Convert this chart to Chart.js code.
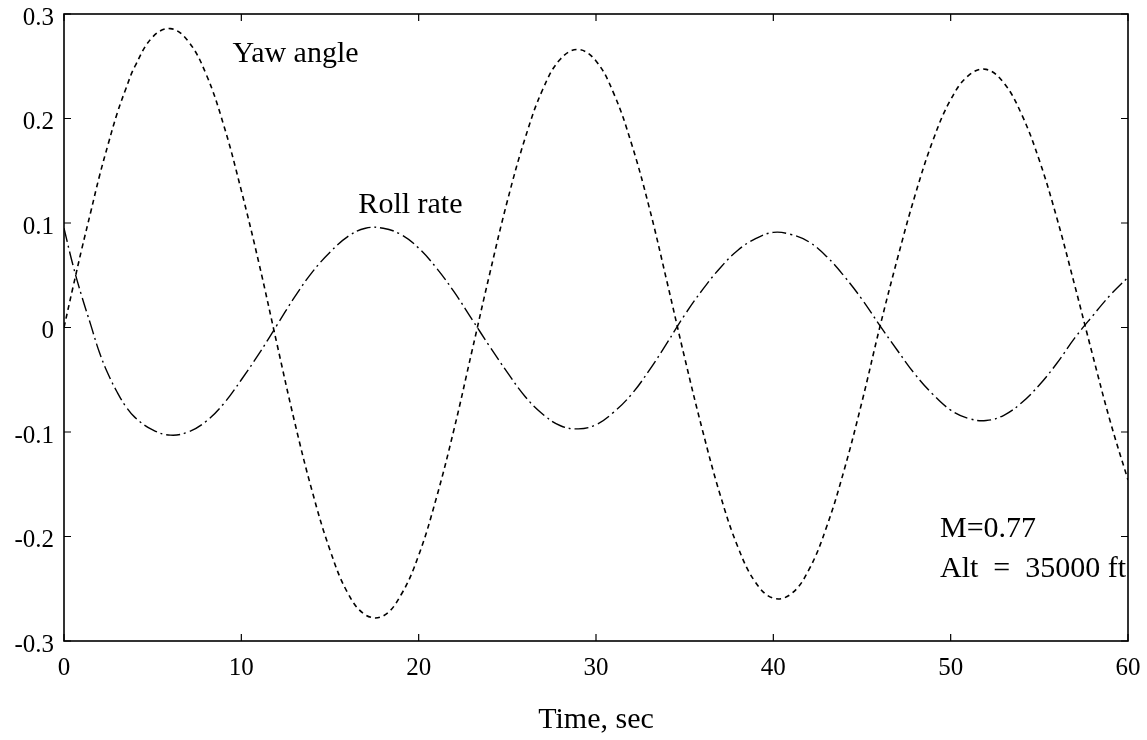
<!DOCTYPE html>
<html>
<head>
<meta charset="utf-8">
<title>Yaw angle / Roll rate</title>
<script src="https://cdn.jsdelivr.net/npm/chart.js@4/dist/chart.umd.min.js"></script>
<style>
    html, body { margin: 0; padding: 0; background: #fff; }
    #wrap { width: 1147px; height: 740px; }
</style>
</head>
<body>
<div id="wrap"><canvas id="chart" width="1147" height="740"></canvas></div>
<script>
// ---------- Data ----------
const timeSec = [0, 0.5, 1, 1.5, 2, 2.5, 3, 3.5, 4, 5, 6, 7, 8, 9, 10, 11, 12, 13, 14, 15, 16, 17, 18, 19, 20,
    21, 22, 23, 24, 25, 26, 27, 28, 29, 30, 31, 32, 33, 34, 35, 36, 37, 38, 39, 40,
    41, 42, 43, 44, 45, 46, 47, 48, 49, 50, 51, 52, 53, 54, 55, 56, 57, 58, 59, 60];

const yawAngle = [0, 0.038, 0.075, 0.110, 0.145, 0.176, 0.205, 0.229, 0.250, 0.278, 0.286, 0.274, 0.243, 0.194, 0.131, 0.061,
    -0.015, -0.090, -0.157, -0.213, -0.254, -0.275, -0.276, -0.256, -0.218,
    -0.163, -0.097, -0.023, 0.051, 0.121, 0.181, 0.228, 0.257, 0.266, 0.255, 0.224, 0.176, 0.115, 0.044,
    -0.029, -0.098, -0.160, -0.210, -0.244, -0.259, -0.255, -0.232, -0.191, -0.136, -0.071, 0.000,
    0.066, 0.127, 0.179, 0.218, 0.241, 0.247, 0.234, 0.204, 0.160, 0.104, 0.040, -0.026, -0.090, -0.146];

const rollRate = [0.095, 0.060, 0.030, 0.003, -0.024, -0.045, -0.062, -0.076, -0.086, -0.098, -0.103, -0.100, -0.090, -0.073, -0.050, -0.025,
    0.002, 0.029, 0.053, 0.072, 0.087, 0.095, 0.095, 0.089, 0.076,
    0.057, 0.034, 0.008, -0.018, -0.043, -0.066, -0.083, -0.094, -0.097, -0.093, -0.081, -0.064, -0.041, -0.015,
    0.012, 0.036, 0.057, 0.074, 0.085, 0.091, 0.089, 0.082, 0.068, 0.049, 0.027, 0.002,
    -0.022, -0.045, -0.064, -0.079, -0.087, -0.089, -0.084, -0.072, -0.055, -0.034, -0.010, 0.011, 0.031, 0.048];

const xTicks = [0, 10, 20, 30, 40, 50, 60];
const yTicks = [-0.3, -0.2, -0.1, 0, 0.1, 0.2, 0.3];

// ---------- Annotations ----------
const notes = [
    { text: "Yaw angle", x: 9.5, y: 0.262 },
    { text: "Roll rate", x: 16.6, y: 0.117 },
    { text: "M=0.77", x: 49.4, y: -0.193 },
    { text: "Alt  =  35000 ft", x: 49.4, y: -0.231 }
];

const serif = "'Liberation Serif', 'DejaVu Serif', serif";

function toPoints(ys) {
    return timeSec.map((t, i) => ({ x: t, y: ys[i] }));
}

// no extra room for labels hanging over the plot edges
function noOverhang(scale) {
    scale.paddingTop = 0;
    scale.paddingBottom = 0;
    scale.paddingLeft = 0;
    scale.paddingRight = 0;
}

// box round the plot, ticks pointing inwards, and the text labels
const framePlugin = {
    id: "frame",
    afterDatasetsDraw(chart) {
        const ctx = chart.ctx;
        const a = chart.chartArea;
        const xs = chart.scales.x;
        const ys = chart.scales.y;

        ctx.save();
        ctx.strokeStyle = "#000";
        ctx.lineWidth = 1.6;
        ctx.strokeRect(a.left, a.top, a.right - a.left, a.bottom - a.top);

        ctx.lineWidth = 1.2;
        ctx.beginPath();
        xTicks.forEach(v => {
            const px = xs.getPixelForValue(v);
            ctx.moveTo(px, a.bottom);
            ctx.lineTo(px, a.bottom - 7);
            ctx.moveTo(px, a.top);
            ctx.lineTo(px, a.top + 7);
        });
        yTicks.forEach(v => {
            const py = ys.getPixelForValue(v);
            ctx.moveTo(a.left, py);
            ctx.lineTo(a.left + 7, py);
            ctx.moveTo(a.right, py);
            ctx.lineTo(a.right - 7, py);
        });
        ctx.stroke();

        ctx.fillStyle = "#000";
        ctx.font = "30px " + serif;
        ctx.textAlign = "left";
        ctx.textBaseline = "middle";
        notes.forEach(n => {
            ctx.fillText(n.text, xs.getPixelForValue(n.x), ys.getPixelForValue(n.y));
        });
        ctx.restore();
    }
};

const ctx = document.getElementById("chart").getContext("2d");

const chart = new Chart(ctx, {
    type: "line",
    data: {
        datasets: [
            {
                label: "Yaw angle",
                data: toPoints(yawAngle),
                borderColor: "#000",
                borderWidth: 1.6,
                borderDash: [5, 4],
                pointRadius: 0,
                tension: 0.4,
                fill: false
            },
            {
                label: "Roll rate",
                data: toPoints(rollRate),
                borderColor: "#000",
                borderWidth: 1.4,
                borderDash: [14, 4, 2, 4],
                pointRadius: 0,
                tension: 0.4,
                fill: false
            }
        ]
    },
    options: {
        responsive: false,
        animation: false,
        layout: {
            padding: { top: 14, right: 19, left: 0, bottom: 0 }
        },
        plugins: {
            legend: { display: false },
            tooltip: { enabled: false }
        },
        scales: {
            x: {
                type: "linear",
                min: 0,
                max: 60,
                afterBuildTicks: scale => {
                    scale.ticks = xTicks.map(v => ({ value: v }));
                },
                afterFit: scale => {
                    scale.height = 99;
                    noOverhang(scale);
                },
                grid: { display: false, drawTicks: false },
                border: { display: false },
                ticks: {
                    color: "#000",
                    padding: 12,
                    maxRotation: 0,
                    font: { family: serif, size: 25 }
                },
                title: {
                    display: true,
                    text: "Time, sec",
                    color: "#000",
                    font: { family: serif, size: 30 },
                    padding: { top: 0, bottom: 2 }
                }
            },
            y: {
                type: "linear",
                min: -0.3,
                max: 0.3,
                afterBuildTicks: scale => {
                    scale.ticks = yTicks.map(v => ({ value: v }));
                },
                afterFit: scale => {
                    scale.width = 64;
                    noOverhang(scale);
                },
                grid: { display: false, drawTicks: false },
                border: { display: false },
                ticks: {
                    color: "#000",
                    padding: 10,
                    labelOffset: 4,
                    font: { family: serif, size: 25 },
                    callback: v => (Math.abs(v) < 1e-9 ? "0" : String(Math.round(v * 10) / 10))
                }
            }
        }
    },
    plugins: [framePlugin]
});
</script>
</body>
</html>
